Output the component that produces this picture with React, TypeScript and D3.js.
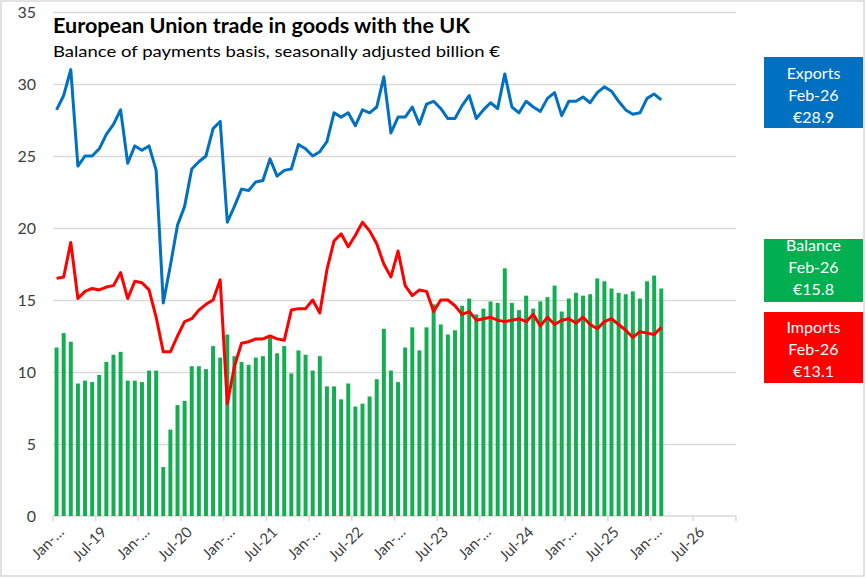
import * as d3 from 'd3'
import { useEffect, useRef } from 'react'

// monthly, Jan-19 .. Feb-26, billion €
const exports = [
  28.2, 29.2, 31.0, 24.3, 25.0, 25.0, 25.5, 26.5, 27.2, 28.2, 24.5, 25.7,
  25.4, 25.7, 24.0, 14.8, 17.4, 20.2, 21.5, 24.1, 24.6, 25.0, 26.9, 27.4,
  20.4, 21.5, 22.7, 22.6, 23.2, 23.3, 24.8, 23.6, 24.0, 24.1, 25.8, 25.5,
  25.0, 25.3, 26.0, 28.0, 27.7, 28.0, 27.1, 28.2, 28.0, 28.4, 30.5, 26.6,
  27.7, 27.7, 28.4, 27.2, 28.6, 28.8, 28.3, 27.6, 27.6, 28.5, 29.2, 27.6,
  28.2, 28.7, 28.3, 30.7, 28.4, 28.0, 28.8, 28.4, 28.1, 29.0, 29.4, 27.8,
  28.8, 28.8, 29.1, 28.7, 29.4, 29.8, 29.5, 28.8, 28.2, 27.9, 28.0, 29.0,
  29.3, 28.9,
]

const imports = [
  16.5, 16.6, 19.0, 15.1, 15.6, 15.8, 15.7, 15.9, 16.0, 16.9, 15.1, 16.3,
  16.2, 15.7, 13.8, 11.4, 11.4, 12.5, 13.5, 13.7, 14.3, 14.7, 15.0, 16.4,
  7.8, 10.4, 12.0, 12.1, 12.3, 12.3, 12.5, 12.3, 12.2, 14.3, 14.4, 14.4,
  15.0, 14.1, 17.1, 19.1, 19.6, 18.7, 19.5, 20.4, 19.8, 18.9, 17.5, 16.6,
  18.4, 16.0, 15.3, 15.7, 15.6, 14.2, 15.0, 15.0, 14.6, 14.0, 14.2, 13.6,
  13.7, 13.8, 13.6, 13.5, 13.6, 13.7, 13.5, 14.0, 13.2, 13.8, 13.3, 13.6,
  13.7, 13.4, 13.8, 13.3, 13.0, 13.5, 13.7, 13.3, 12.9, 12.4, 12.8, 12.7,
  12.6, 13.1,
]

const balance = [
  11.7, 12.7, 12.1, 9.2, 9.4, 9.3, 9.8, 10.7, 11.2, 11.4, 9.4, 9.4,
  9.3, 10.1, 10.1, 3.4, 6.0, 7.7, 8.0, 10.4, 10.4, 10.2, 11.8, 11.0,
  12.6, 11.1, 10.7, 10.5, 11.0, 11.1, 12.4, 11.3, 11.8, 9.9, 11.5, 11.2,
  10.1, 11.1, 9.0, 9.0, 8.1, 9.2, 7.6, 7.8, 8.3, 9.5, 13.0, 10.1,
  9.3, 11.7, 13.1, 11.5, 13.1, 14.7, 13.3, 12.6, 12.9, 14.6, 15.1, 14.0,
  14.4, 14.9, 14.8, 17.2, 14.8, 14.3, 15.3, 14.4, 14.9, 15.2, 16.0, 14.2,
  15.1, 15.5, 15.3, 15.4, 16.5, 16.3, 15.8, 15.5, 15.4, 15.6, 15.1, 16.3,
  16.7, 15.8,
]

// axis runs Jan-19 .. Dec-26
const axisMonths = d3.timeMonth.range(new Date(2019, 0, 1), new Date(2027, 0, 1))
const fmt = d3.timeFormat('%b-%y')
const months = axisMonths.map(fmt)
const dataMonths = months.slice(0, exports.length)

const xTickLabels = [
  'Jan-…', 'Jul-19', 'Jan-…', 'Jul-20', 'Jan-…', 'Jul-21', 'Jan-…', 'Jul-22',
  'Jan-…', 'Jul-23', 'Jan-…', 'Jul-24', 'Jan-…', 'Jul-25', 'Jan-…', 'Jul-26',
]
const yTicks = [0, 5, 10, 15, 20, 25, 30, 35]

const BLUE = '#0070C0'
const RED = '#FF0000'
const GREEN = '#00B050'
const BAR = '#14AE52'
const FONT = 'Lato, "Noto Sans", sans-serif'

const W = 866
const H = 578
const left = 53
const right = 736
const top = 12
const bottom = 516

const Chart = () => {
  const ref = useRef<SVGSVGElement | null>(null)

  useEffect(() => {
    if (!ref.current) return
    const svg = d3.select(ref.current)
    svg.selectAll('*').remove()

    const pad = 0.44
    const x = d3.scaleBand<string>().domain(months).range([left, right]).paddingInner(pad).paddingOuter(pad / 2)
    const y = d3.scaleLinear().domain([0, 35]).range([bottom, top])
    const step = x.step()
    const cx = (m: string) => (x(m) as number) + x.bandwidth() / 2

    svg.append('rect').attr('width', W).attr('height', H).attr('fill', '#fff')
    svg
      .append('rect')
      .attr('x', 1)
      .attr('y', 1)
      .attr('width', W - 3)
      .attr('height', H - 3)
      .attr('fill', 'none')
      .attr('stroke', '#D9D9D9')
      .attr('stroke-width', 1.5)

    // gridlines + y labels
    const yAxis = svg.append('g').attr('transform', `translate(${left},0)`)
    yAxis
      .call(d3.axisLeft(y).tickValues(yTicks).tickSize(-(right - left)).tickPadding(17))
      .call((g) => g.select('.domain').remove())
      .call((g) =>
        g.selectAll('line').attr('stroke', '#D9D9D9').attr('stroke-width', 1.5),
      )
      .call((g) =>
        g
          .selectAll('text')
          .attr('fill', '#404040')
          .style('font-family', FONT)
          .style('font-size', '16px'),
      )
    yAxis.selectAll('.tick').filter((d) => d === 0).select('line').remove()

    // x axis line and ticks (every 6 months, at band edges)
    const xg = svg.append('g')
    xg.append('line')
      .attr('x1', left)
      .attr('x2', right)
      .attr('y1', bottom)
      .attr('y2', bottom)
      .attr('stroke', '#D9D9D9')
      .attr('stroke-width', 1.5)
    const tickXs = d3.range(0, months.length + 1, 6).map((i) => left + i * step)
    xg.selectAll('line.tk')
      .data(tickXs)
      .join('line')
      .attr('class', 'tk')
      .attr('x1', (d) => d)
      .attr('x2', (d) => d)
      .attr('y1', bottom)
      .attr('y2', bottom + 5)
      .attr('stroke', '#D9D9D9')
      .attr('stroke-width', 1.5)
    xg.selectAll('text')
      .data(xTickLabels)
      .join('text')
      .attr('transform', (_d, i) => `translate(${left + i * 6 * step + 12},${bottom + 17}) rotate(-45)`)
      .attr('text-anchor', 'end')
      .attr('fill', '#404040')
      .style('font-family', FONT)
      .style('font-size', '15px')
      .text((d) => d)

    // balance bars
    svg
      .append('g')
      .selectAll('rect')
      .data(balance)
      .join('rect')
      .attr('x', (_d, i) => x(dataMonths[i]) as number)
      .attr('width', x.bandwidth())
      .attr('y', (d) => y(d))
      .attr('height', (d) => bottom - y(d))
      .attr('fill', BAR)

    const line = d3
      .line<number>()
      .x((_d, i) => cx(dataMonths[i]))
      .y((d) => y(d))

    svg
      .append('path')
      .datum(imports)
      .attr('d', line)
      .attr('fill', 'none')
      .attr('stroke', RED)
      .attr('stroke-width', 3)
      .attr('stroke-linejoin', 'round')

    svg
      .append('path')
      .datum(exports)
      .attr('d', line)
      .attr('fill', 'none')
      .attr('stroke', BLUE)
      .attr('stroke-width', 3)
      .attr('stroke-linejoin', 'round')

    // title
    svg
      .append('text')
      .attr('x', left)
      .attr('y', 33)
      .attr('textLength', 417)
      .attr('lengthAdjust', 'spacingAndGlyphs')
      .style('font-family', FONT)
      .style('font-size', '21px')
      .style('font-weight', 700)
      .attr('fill', '#000')
      .text('European Union trade in goods with the UK')
    svg
      .append('text')
      .attr('x', left)
      .attr('y', 57)
      .attr('textLength', 447)
      .attr('lengthAdjust', 'spacingAndGlyphs')
      .style('font-family', FONT)
      .style('font-size', '16px')
      .attr('fill', '#000')
      .text('Balance of payments basis, seasonally adjusted billion €')

    // end-value labels
    const last = dataMonths[dataMonths.length - 1]
    const boxes = [
      { name: 'Exports', value: exports[exports.length - 1], color: BLUE, y0: 57, y1: 128, base: 79 },
      { name: 'Balance', value: balance[balance.length - 1], color: GREEN, y0: 239, y1: 302, base: 251 },
      { name: 'Imports', value: imports[imports.length - 1], color: RED, y0: 312, y1: 383, base: 333 },
    ]
    const bx0 = 764
    const bx1 = 863
    const bg = svg.append('g').selectAll('g').data(boxes).join('g')
    bg.append('rect')
      .attr('x', bx0)
      .attr('y', (d) => d.y0)
      .attr('width', bx1 - bx0)
      .attr('height', (d) => d.y1 - d.y0)
      .attr('fill', (d) => d.color)
    bg.each(function (d) {
      const lines = [d.name, last, `€${d.value.toFixed(1)}`]
      d3.select(this)
        .selectAll('text')
        .data(lines)
        .join('text')
        .attr('x', (bx0 + bx1) / 2)
        .attr('y', (_t, i) => d.base + i * 22)
        .attr('text-anchor', 'middle')
        .attr('fill', '#fff')
        .style('font-family', FONT)
        .style('font-size', '16px')
        .text((t) => t)
    })
  }, [])

  return <svg ref={ref} width={W} height={H} viewBox={`0 0 ${W} ${H}`} style={{ display: 'block' }} />
}

export default function App() {
  return (
    <div style={{ position: 'absolute', left: 0, top: 0 }}>
      <Chart />
    </div>
  )
}
